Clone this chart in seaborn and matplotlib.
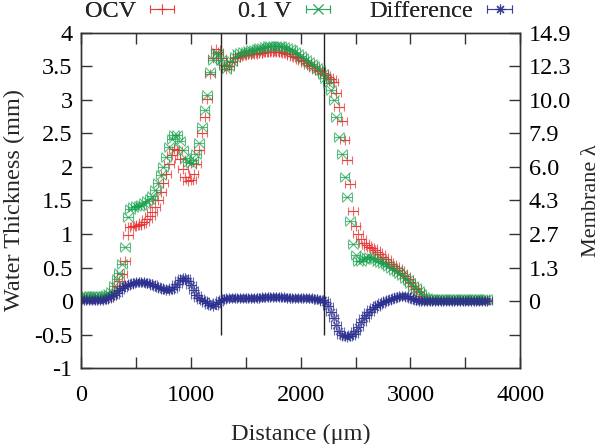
import numpy as np
import matplotlib
matplotlib.use("Agg")
import matplotlib.pyplot as plt
import seaborn as sns

# data (25 um steps from 0 to 3700 um)
distance = np.arange(0, 3701, 25)

ocv = [
    0.05, 0.05, 0.05, 0.05, 0.05, 0.05, 0.05, 0.05,
    0.05, 0.05, 0.05, 0.08, 0.15, 0.22, 0.30, 0.40,
    0.60, 0.98, 1.10, 1.12, 1.12, 1.13, 1.15, 1.18,
    1.22, 1.27, 1.33, 1.40, 1.50, 1.62, 1.76, 1.90,
    2.04, 2.18, 2.27, 2.25, 2.12, 1.97, 1.85, 1.79,
    1.80, 1.90, 2.05, 2.25, 2.50, 2.75, 3.02, 3.38,
    3.62, 3.76, 3.72, 3.62, 3.52, 3.46, 3.50, 3.57,
    3.62, 3.64, 3.66, 3.67, 3.67, 3.68, 3.68, 3.69,
    3.69, 3.70, 3.70, 3.71, 3.71, 3.72, 3.72, 3.72,
    3.72, 3.71, 3.70, 3.69, 3.68, 3.66, 3.64, 3.62,
    3.60, 3.58, 3.55, 3.52, 3.50, 3.47, 3.45, 3.43,
    3.40, 3.37, 3.34, 3.31, 3.26, 3.10, 2.90, 2.68,
    2.40, 2.10, 1.75, 1.35, 1.12, 1.00, 0.92, 0.87,
    0.84, 0.81, 0.79, 0.76, 0.73, 0.70, 0.66, 0.62,
    0.58, 0.55, 0.52, 0.49, 0.46, 0.42, 0.37, 0.33,
    0.28, 0.23, 0.18, 0.13, 0.08, 0.05, 0.03, 0.02,
    0.02, 0.02, 0.02, 0.02, 0.02, 0.02, 0.02, 0.02,
    0.02, 0.02, 0.02, 0.02, 0.02, 0.02, 0.02, 0.02,
    0.02, 0.02, 0.02, 0.02, 0.02,
]

v01 = [
    0.07, 0.07, 0.07, 0.07, 0.07, 0.07, 0.07, 0.07,
    0.08, 0.09, 0.10, 0.14, 0.22, 0.33, 0.42, 0.55,
    0.80, 1.25, 1.38, 1.40, 1.41, 1.42, 1.43, 1.46,
    1.49, 1.52, 1.56, 1.65, 1.76, 1.88, 2.00, 2.15,
    2.30, 2.42, 2.48, 2.47, 2.38, 2.26, 2.14, 2.08,
    2.06, 2.10, 2.20, 2.35, 2.60, 2.85, 3.08, 3.42,
    3.60, 3.70, 3.68, 3.60, 3.52, 3.46, 3.50, 3.58,
    3.64, 3.68, 3.70, 3.71, 3.72, 3.73, 3.74, 3.75,
    3.76, 3.77, 3.78, 3.79, 3.80, 3.80, 3.81, 3.81,
    3.81, 3.80, 3.79, 3.77, 3.76, 3.74, 3.71, 3.69,
    3.66, 3.63, 3.60, 3.57, 3.54, 3.51, 3.48, 3.44,
    3.39, 3.32, 3.25, 3.15, 3.00, 2.75, 2.45, 2.20,
    1.85, 1.55, 1.20, 0.85, 0.68, 0.60, 0.60, 0.63,
    0.65, 0.66, 0.64, 0.62, 0.60, 0.58, 0.57, 0.55,
    0.52, 0.49, 0.47, 0.45, 0.42, 0.39, 0.35, 0.31,
    0.27, 0.23, 0.20, 0.15, 0.10, 0.06, 0.04, 0.03,
    0.03, 0.03, 0.03, 0.03, 0.03, 0.03, 0.03, 0.03,
    0.03, 0.03, 0.03, 0.03, 0.03, 0.03, 0.03, 0.03,
    0.03, 0.03, 0.03, 0.03, 0.03,
]

difference = [
    0.01, 0.01, 0.01, 0.01, 0.01, 0.01, 0.01, 0.01,
    0.02, 0.03, 0.05, 0.07, 0.09, 0.12, 0.16, 0.19,
    0.22, 0.24, 0.26, 0.27, 0.28, 0.28, 0.28, 0.28,
    0.27, 0.26, 0.25, 0.23, 0.21, 0.19, 0.18, 0.17,
    0.17, 0.18, 0.21, 0.26, 0.31, 0.34, 0.34, 0.30,
    0.24, 0.16, 0.09, 0.05, 0.02, 0.00, -0.03, -0.06,
    -0.07, -0.05, -0.02, 0.01, 0.03, 0.04, 0.05, 0.05,
    0.05, 0.05, 0.05, 0.05, 0.05, 0.05, 0.05, 0.05,
    0.05, 0.05, 0.06, 0.06, 0.06, 0.06, 0.06, 0.06,
    0.06, 0.06, 0.06, 0.05, 0.05, 0.05, 0.05, 0.05,
    0.05, 0.05, 0.04, 0.04, 0.04, 0.03, 0.03, 0.02,
    0.01, -0.02, -0.08, -0.17, -0.26, -0.36, -0.44, -0.50,
    -0.52, -0.53, -0.52, -0.49, -0.45, -0.39, -0.32, -0.26,
    -0.21, -0.16, -0.12, -0.09, -0.06, -0.04, -0.02, 0.00,
    0.02, 0.03, 0.05, 0.06, 0.07, 0.08, 0.08, 0.07,
    0.05, 0.03, 0.01, 0.00, 0.00, 0.00, 0.00, 0.00,
    0.00, 0.00, 0.00, 0.00, 0.00, 0.00, 0.00, 0.00,
    0.00, 0.00, 0.00, 0.00, 0.00, 0.00, 0.00, 0.00,
    0.00, 0.00, 0.00, 0.00, 0.00,
]

x_err = 45
region_edges = [1275, 2215]

left_ticks = [-1, -0.5, 0, 0.5, 1, 1.5, 2, 2.5, 3, 3.5, 4]
left_labels = ['-1', '-0.5', '0', '0.5', '1', '1.5', '2', '2.5', '3', '3.5', '4']
right_ticks = [4, 3.5, 3, 2.5, 2, 1.5, 1, 0.5, 0, -0.5]
lambda_labels = ['14.9', '12.3', '10.0', '7.9', '6.0', '4.3', '2.7', '1.3', '0', '']
x_ticks = [0, 500, 1000, 1500, 2000, 2500, 3000, 3500, 4000]
x_labels = ['0', '', '1000', '', '2000', '', '3000', '', '4000']

# styling
sns.set_theme(style="ticks")
plt.rcParams['font.family'] = ['Liberation Serif', 'DejaVu Serif']
FS = 17.5

fig = plt.figure(figsize=(6, 4.44), dpi=100)
ax = fig.add_axes([0.135, 0.171, 0.732, 0.755])

series = [
    ('OCV', ocv, '#e8302f', '+'),
    ('0.1 V', v01, '#16a04c', 'x'),
    ('Difference', difference, '#2b2f8f', (8, 2, 0)),
]
handles = []
for name, vals, col, mk in series:
    h = ax.errorbar(distance, vals, xerr=x_err, fmt='', marker=mk, linestyle='none',
                    color=col, ecolor=col, markersize=7, markeredgewidth=0.8,
                    elinewidth=0.8, capsize=3, capthick=0.8, alpha=0.7, label=name)
    handles.append(h)

ax.vlines(region_edges, -0.5, 4, color='#222222', linewidth=1)

ax.set_xlim(0, 4000)
ax.set_ylim(-1, 4)
ax.set_xticks(x_ticks)
ax.set_xticklabels(x_labels)
ax.set_yticks(left_ticks)
ax.set_yticklabels(left_labels)
ax.tick_params(axis='both', direction='in', length=8, width=1, colors='#333333',
               labelcolor='black', labelsize=FS, top=True, right=False)
ax.tick_params(axis='x', pad=12)
ax.tick_params(axis='y', pad=6)
ax.set_xlabel('Distance (μm)', fontsize=FS, labelpad=13)
ax.set_ylabel('Water Thickness (mm)', fontsize=FS, labelpad=7)

ax2 = ax.twinx()
ax2.set_ylim(-1, 4)
ax2.set_yticks(right_ticks)
ax2.set_yticklabels(lambda_labels)
ax2.tick_params(axis='y', direction='in', length=8, width=1, colors='#333333',
                labelcolor='black', labelsize=FS, pad=6)
ax2.set_ylabel('Membrane λ', fontsize=16, labelpad=8)

for a in (ax, ax2):
    for s in a.spines.values():
        s.set_color('#333333')
        s.set_linewidth(1)

# gnuplot-style key: text right-aligned before each sample
key_right_edges = [0.295, 0.555, 0.858]
for h, xr in zip(handles, key_right_edges):
    lg = fig.legend(handles=[h], loc='center right', bbox_to_anchor=(xr, 0.975),
                    frameon=False, fontsize=FS, markerfirst=False, handlelength=1.25,
                    handletextpad=0.45, borderpad=0, borderaxespad=0)
    fig.add_artist(lg)

fig.savefig('out.png', dpi=100)
